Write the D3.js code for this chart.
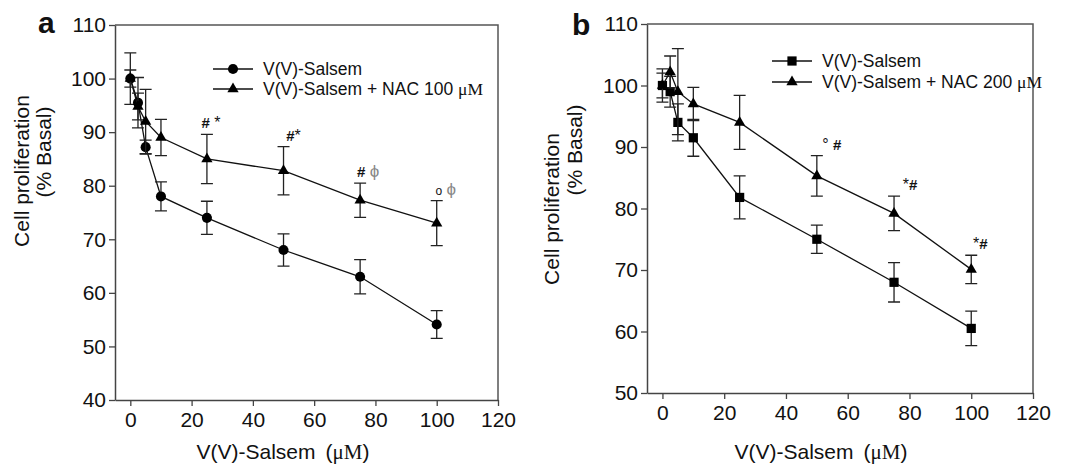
<!DOCTYPE html>
<html>
<head>
<meta charset="utf-8">
<script src="https://cdn.jsdelivr.net/npm/d3@7"></script>
<style>
  body { margin: 0; background: #fff; }
  svg { display: block; }
  text { font-family: "Liberation Sans", Arial, sans-serif; fill: #111; }
</style>
</head>
<body>
<svg id="chart" width="1072" height="465"></svg>
<script>
// doses (uM) shared by both panels
const doses = [0, 2.5, 5, 10, 25, 50, 75, 100];

// panel a
const aSalsem = [100, 95.5, 87.2, 78, 74, 68, 63, 54.1];
const aSalsemErr = [4.8, 4.7, 1.3, 2.7, 3.1, 3, 3.2, 2.6];
const aNac = [100, 94.8, 92, 89, 85, 82.8, 77.3, 73];
const aNacErr = [1.6, 2.5, 6, 3.4, 4.6, 4.5, 3.2, 4.2];
const aNotes = [[25, '# *'], [50, '#*'], [75, '# ϕ'], [100, 'o ϕ']];

// panel b
const bSalsem = [100, 99, 94, 91.5, 81.8, 75, 68, 60.5];
const bSalsemErr = [2.7, 2.5, 3, 3, 3.5, 2.3, 3.2, 2.8];
const bNac = [100, 102.2, 99, 97, 94, 85.3, 79.2, 70.1];
const bNacErr = [2, 2.6, 7, 2.7, 4.4, 3.3, 2.8, 2.3];
const bNotes = [[50, '° #'], [75, '*#'], [100, '*#']];

const xTicks = [0, 20, 40, 60, 80, 100, 120];
const aYTicks = [40, 50, 60, 70, 80, 90, 100, 110];
const bYTicks = [50, 60, 70, 80, 90, 100, 110];

const svg = d3.select('#chart');

function drawPanel(p) {
  const x = d3.scaleLinear().domain([-5, 120]).range([p.left, p.right]);
  const y = d3.scaleLinear().domain(p.yDomain).range([p.bottom, p.top]);
  const g = svg.append('g');

  // frame top / right
  g.append('path')
    .attr('d', `M${p.left},${p.top}H${p.right}V${p.bottom}`)
    .attr('fill', 'none').attr('stroke', '#555').attr('stroke-width', 1.5);

  const xAxis = g.append('g')
    .attr('transform', `translate(0,${p.bottom})`)
    .call(d3.axisBottom(x).tickValues(xTicks).tickSize(6).tickSizeOuter(0).tickPadding(6));
  const yAxis = g.append('g')
    .attr('transform', `translate(${p.left},0)`)
    .call(d3.axisLeft(y).tickValues(p.yTicks).tickSize(6).tickSizeOuter(0).tickPadding(3));
  [xAxis, yAxis].forEach(ax => {
    ax.select('.domain').attr('stroke', '#444').attr('stroke-width', 1.5);
    ax.selectAll('.tick line').attr('stroke', '#444').attr('stroke-width', 1.3);
    ax.selectAll('.tick text')
      .style('font-family', '"Liberation Sans", Arial, sans-serif')
      .style('font-size', '21px').attr('fill', '#111');
  });

  p.series.forEach(s => {
    const pts = doses.map((d, i) => ({ d, v: s.values[i], e: s.err[i] }));
    g.append('path')
      .datum(pts)
      .attr('fill', 'none').attr('stroke', '#111').attr('stroke-width', 1.3)
      .attr('d', d3.line().x(d => x(d.d)).y(d => y(d.v)));

    const eb = g.append('g').attr('stroke', '#222').attr('stroke-width', 1.3);
    eb.selectAll('path').data(pts).join('path')
      .attr('fill', 'none')
      .attr('d', d => {
        const cx = x(d.d), t = y(d.v + d.e), b = y(d.v - d.e);
        return `M${cx - 6},${t}H${cx + 6}M${cx},${t}V${b}M${cx - 6},${b}H${cx + 6}`;
      });

    g.selectAll(null).data(pts).join('path')
      .attr('transform', d => `translate(${x(d.d)},${y(d.v)})`)
      .attr('d', d3.symbol().type(s.symbol).size(s.size))
      .attr('fill', '#000');
  });

  // significance marks above the NAC series
  const nac = p.series[1];
  p.notes.forEach(([dose, label], k) => {
    const i = doses.indexOf(dose);
    const top = y(nac.values[i] + nac.err[i]);
    const t = g.append('text')
      .attr('x', x(dose) + p.noteDx[k])
      .attr('y', top - 6)
      .attr('text-anchor', 'middle')
      .style('font-size', '16px');
    label.split('').forEach(ch => {
      const ts = t.append('tspan').text(ch === ' ' ? '\u00a0' : ch);
      if (ch === 'ϕ') ts.attr('fill', '#888').style('font-size', '17px');
      if (ch === 'o') ts.style('font-size', '12px');
      if (ch === '#') ts.style('font-weight', 'bold').style('font-size', '15px');
    });
  });

  // legend
  p.series.forEach((s, i) => {
    const ly = p.legendY + i * p.legendGap;
    g.append('line')
      .attr('x1', p.legendX).attr('x2', p.legendX + 40)
      .attr('y1', ly).attr('y2', ly)
      .attr('stroke', '#111').attr('stroke-width', 1.3);
    g.append('path')
      .attr('transform', `translate(${p.legendX + 20},${ly})`)
      .attr('d', d3.symbol().type(s.symbol).size(s.size))
      .attr('fill', '#000');
    const t = g.append('text')
      .attr('x', p.legendX + 50).attr('y', ly + 6)
      .style('font-size', '17.5px')
      .text(s.name);
    if (s.unit) {
      t.append('tspan').text(s.unit)
        .style('font-family', '"Liberation Serif", "Times New Roman", serif');
    }
  });

  // axis titles
  const xt = g.append('text')
    .attr('x', p.xTitleX).attr('y', 459)
    .attr('text-anchor', 'middle')
    .style('font-size', '21px')
    .text('V(V)-Salsem');
  xt.append('tspan').attr('dx', 10).text('(')
  xt.append('tspan').text('μM')
    .style('font-family', '"Liberation Serif", "Times New Roman", serif');
  xt.append('tspan').text(')');

  g.append('text')
    .attr('transform', `translate(${p.yTitle[0]},${p.yTitle[1]}) rotate(-90)`)
    .attr('text-anchor', 'middle')
    .style('font-size', '21px')
    .text('Cell proliferation');
  g.append('text')
    .attr('transform', `translate(${p.yTitle[2]},${p.yTitle[3]}) rotate(-90)`)
    .attr('text-anchor', 'middle')
    .style('font-size', '21px')
    .text('(% Basal)');

  g.append('text')
    .attr('x', p.tag[0]).attr('y', p.tag[1])
    .style('font-size', '30px').style('font-weight', 'bold')
    .text(p.tag[2]);
}

drawPanel({
  left: 115, right: 498, top: 25, bottom: 400,
  yDomain: [40, 110], yTicks: aYTicks,
  series: [
    { name: 'V(V)-Salsem', values: aSalsem, err: aSalsemErr, symbol: d3.symbolCircle, size: 80 },
    { name: 'V(V)-Salsem + NAC 100 ', unit: 'μM', values: aNac, err: aNacErr, symbol: d3.symbolTriangle, size: 55 }
  ],
  notes: aNotes, noteDx: [4, 10, 8, 9],
  legendX: 213, legendY: 69, legendGap: 20,
  xTitleX: 283, yTitle: [29, 171, 51, 152], tag: [38, 33, 'a']
});

drawPanel({
  left: 647, right: 1033, top: 24, bottom: 393,
  yDomain: [50, 110], yTicks: bYTicks,
  series: [
    { name: 'V(V)-Salsem', values: bSalsem, err: bSalsemErr, symbol: d3.symbolSquare, size: 85 },
    { name: 'V(V)-Salsem + NAC 200 ', unit: 'μM', values: bNac, err: bNacErr, symbol: d3.symbolTriangle, size: 55 }
  ],
  notes: bNotes, noteDx: [15, 16, 9],
  legendX: 772, legendY: 61, legendGap: 21,
  xTitleX: 821, yTitle: [559, 209, 582, 150], tag: [572, 35, 'b']
});
</script>
</body>
</html>
